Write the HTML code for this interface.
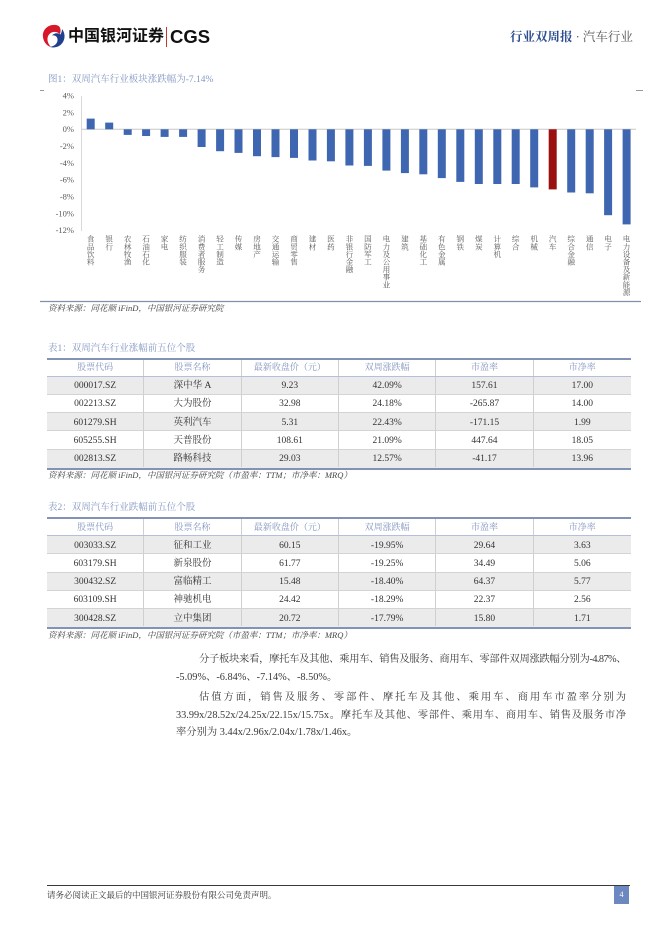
<!DOCTYPE html>
<html><head><meta charset="utf-8">
<style>
*{margin:0;padding:0;box-sizing:border-box}
html,body{width:662px;height:936px;background:#fff;overflow:hidden}
body{position:relative;font-family:"Liberation Serif","Noto Serif CJK SC",serif;color:#333}
.abs{position:absolute;white-space:nowrap}
.cap{font-size:9.5px;color:#8497c2;line-height:12px}
.src{font-size:8.5px;color:#444;font-style:italic;line-height:11px}
.cat{position:absolute;top:235px;width:9px;height:70px;white-space:nowrap;writing-mode:vertical-rl;font-size:7.6px;line-height:9px;color:#595959;font-family:"Liberation Serif","Noto Serif CJK SC",serif}
.tbl{position:absolute;left:47px;width:584px;border-top:2px solid #8393b5;border-bottom:2px solid #8393b5}
.r{display:flex;height:18.25px;border-bottom:1px solid #d4d4d4}
.r:last-child{border-bottom:none}
.r.h{height:17px;border-bottom:1px solid #b4c0da;background:#fff}
.r.g{background:#ebebeb}
.r div{flex:0 0 97.33px;text-align:center;border-right:1px solid #cfcfcf;font-size:9.5px;padding-top:1.5px;line-height:16px;height:17.25px;overflow:hidden;color:#333;white-space:nowrap}
.r div:last-child{border-right:none}
.r.h div{color:#8294bf;font-size:9px;padding-top:0.5px;line-height:15.5px;height:16px}
.p{position:absolute;font-size:10.3px;line-height:14px;color:#3a3a3a;white-space:nowrap}
.j{text-align:justify;text-align-last:justify}
</style></head><body>

<!-- header -->
<svg class="abs" style="left:42px;top:24px" width="24" height="24" viewBox="0 0 24 24">
<path d="M14,1 C6,0 0,6 1,13 C1.5,18 5,22 9,23 C5,19 4,13 8,9.5 C11,7 15,7.5 18,10 C19.5,5 18,1.5 14,1 Z" fill="#d7182a"/>
<path d="M20,5 C24,10 23.5,18 17,22 C13,24 9.5,23.5 8,23 C13,22 16,19 15.5,15 C15,12 12.5,11 10,11.5 C12,9 16,8.5 18.5,10.5 C19.5,8.5 20,7 20,5 Z" fill="#1f3f8f"/>
</svg>
<div class="abs" style="left:68px;top:27px;font-family:'Liberation Sans','Noto Sans CJK SC',sans-serif;font-weight:bold;font-size:16px;line-height:20px;color:#111">中国银河证券</div>
<div class="abs" style="left:166px;top:27px;width:1.2px;height:20px;background:#c0392b"></div>
<div class="abs" style="left:170px;top:26px;font-family:'Liberation Sans',sans-serif;font-weight:bold;font-size:18.5px;line-height:22px;color:#111">CGS</div>
<div class="abs" style="left:510px;top:29px;font-size:12.5px;line-height:16px"><span style="color:#2d4f92;font-weight:bold">行业双周报</span><span style="color:#555"> · 汽车行业</span></div>

<!-- chart -->
<div class="abs cap" style="left:48px;top:74px">图1：双周汽车行业板块涨跌幅为-7.14%</div>
<svg class="abs" style="left:0;top:0" width="662" height="320">
<line x1="40" y1="90.5" x2="44" y2="90.5" stroke="#999" stroke-width="1"/>
<line x1="636" y1="90.5" x2="643" y2="90.5" stroke="#999" stroke-width="1"/>
<line x1="81.5" y1="96" x2="81.5" y2="231" stroke="#d9d9d9" stroke-width="1"/>
<line x1="81.5" y1="129.3" x2="636" y2="129.3" stroke="#c8c8c8" stroke-width="1"/>
<g font-family="Liberation Serif" font-size="8.5" fill="#595959" text-anchor="end">
<text x="74" y="98.5">4%</text>
<text x="74" y="115.3">2%</text>
<text x="74" y="132.2">0%</text>
<text x="74" y="149">-2%</text>
<text x="74" y="165.9">-4%</text>
<text x="74" y="182.7">-6%</text>
<text x="74" y="199.6">-8%</text>
<text x="74" y="216.4">-10%</text>
<text x="74" y="233.2">-12%</text>
</g>
<g fill="#3f66b0">
<rect x="86.7" y="118.6" width="8" height="10.7"/>
<rect x="105.2" y="122.6" width="8" height="6.7"/>
<rect x="123.7" y="129.3" width="8" height="5.6"/>
<rect x="142.1" y="129.3" width="8" height="6.7"/>
<rect x="160.6" y="129.3" width="8" height="7.6"/>
<rect x="179.1" y="129.3" width="8" height="7.6"/>
<rect x="197.6" y="129.3" width="8" height="17.7"/>
<rect x="216.1" y="129.3" width="8" height="21.9"/>
<rect x="234.5" y="129.3" width="8" height="23.6"/>
<rect x="253.0" y="129.3" width="8" height="26.9"/>
<rect x="271.5" y="129.3" width="8" height="27.8"/>
<rect x="290.0" y="129.3" width="8" height="28.6"/>
<rect x="308.5" y="129.3" width="8" height="31.2"/>
<rect x="326.9" y="129.3" width="8" height="32.0"/>
<rect x="345.4" y="129.3" width="8" height="36.2"/>
<rect x="363.9" y="129.3" width="8" height="36.6"/>
<rect x="382.4" y="129.3" width="8" height="41.3"/>
<rect x="400.9" y="129.3" width="8" height="43.8"/>
<rect x="419.3" y="129.3" width="8" height="45.0"/>
<rect x="437.8" y="129.3" width="8" height="48.8"/>
<rect x="456.3" y="129.3" width="8" height="52.6"/>
<rect x="474.8" y="129.3" width="8" height="54.7"/>
<rect x="493.3" y="129.3" width="8" height="54.7"/>
<rect x="511.7" y="129.3" width="8" height="54.7"/>
<rect x="530.2" y="129.3" width="8" height="58.1"/>
<rect x="567.2" y="129.3" width="8" height="63.2"/>
<rect x="585.7" y="129.3" width="8" height="64.0"/>
<rect x="604.1" y="129.3" width="8" height="85.9"/>
<rect x="622.6" y="129.3" width="8" height="95.1"/>
</g>
<rect x="548.7" y="129.3" width="8" height="60.1" fill="#9a0f0f"/>
<line x1="40" y1="301.5" x2="641" y2="301.5" stroke="#8090a8" stroke-width="1.3"/>
</svg>
<div class="cat" style="left:86.2px">食品饮料</div>
<div class="cat" style="left:104.7px">银行</div>
<div class="cat" style="left:123.2px">农林牧渔</div>
<div class="cat" style="left:141.6px">石油石化</div>
<div class="cat" style="left:160.1px">家电</div>
<div class="cat" style="left:178.6px">纺织服装</div>
<div class="cat" style="left:197.1px">消费者服务</div>
<div class="cat" style="left:215.6px">轻工制造</div>
<div class="cat" style="left:234.0px">传媒</div>
<div class="cat" style="left:252.5px">房地产</div>
<div class="cat" style="left:271.0px">交通运输</div>
<div class="cat" style="left:289.5px">商贸零售</div>
<div class="cat" style="left:308.0px">建材</div>
<div class="cat" style="left:326.4px">医药</div>
<div class="cat" style="left:344.9px">非银行金融</div>
<div class="cat" style="left:363.4px">国防军工</div>
<div class="cat" style="left:381.9px">电力及公用事业</div>
<div class="cat" style="left:400.4px">建筑</div>
<div class="cat" style="left:418.8px">基础化工</div>
<div class="cat" style="left:437.3px">有色金属</div>
<div class="cat" style="left:455.8px">钢铁</div>
<div class="cat" style="left:474.3px">煤炭</div>
<div class="cat" style="left:492.8px">计算机</div>
<div class="cat" style="left:511.2px">综合</div>
<div class="cat" style="left:529.7px">机械</div>
<div class="cat" style="left:548.2px">汽车</div>
<div class="cat" style="left:566.7px">综合金融</div>
<div class="cat" style="left:585.2px">通信</div>
<div class="cat" style="left:603.6px">电子</div>
<div class="cat" style="left:622.1px">电力设备及新能源</div>
<div class="abs src" style="left:48px;top:303px">资料来源：同花顺 iFinD，中国银河证券研究院</div>

<!-- table 1 -->
<div class="abs cap" style="left:48px;top:343px">表1：双周汽车行业涨幅前五位个股</div>
<div class="tbl" style="top:357.5px">
<div class="r h"><div>股票代码</div><div>股票名称</div><div>最新收盘价（元）</div><div>双周涨跌幅</div><div>市盈率</div><div>市净率</div></div>
<div class="r g"><div>000017.SZ</div><div>深中华 A</div><div>9.23</div><div>42.09%</div><div>157.61</div><div>17.00</div></div>
<div class="r"><div>002213.SZ</div><div>大为股份</div><div>32.98</div><div>24.18%</div><div>-265.87</div><div>14.00</div></div>
<div class="r g"><div>601279.SH</div><div>英利汽车</div><div>5.31</div><div>22.43%</div><div>-171.15</div><div>1.99</div></div>
<div class="r"><div>605255.SH</div><div>天普股份</div><div>108.61</div><div>21.09%</div><div>447.64</div><div>18.05</div></div>
<div class="r g"><div>002813.SZ</div><div>路畅科技</div><div>29.03</div><div>12.57%</div><div>-41.17</div><div>13.96</div></div>
</div>
<div class="abs src" style="left:48px;top:470px">资料来源：同花顺 iFinD，中国银河证券研究院（市盈率：TTM；市净率：MRQ）</div>

<!-- table 2 -->
<div class="abs cap" style="left:48px;top:502px">表2：双周汽车行业跌幅前五位个股</div>
<div class="tbl" style="top:517px">
<div class="r h"><div>股票代码</div><div>股票名称</div><div>最新收盘价（元）</div><div>双周涨跌幅</div><div>市盈率</div><div>市净率</div></div>
<div class="r g"><div>003033.SZ</div><div>征和工业</div><div>60.15</div><div>-19.95%</div><div>29.64</div><div>3.63</div></div>
<div class="r"><div>603179.SH</div><div>新泉股份</div><div>61.77</div><div>-19.25%</div><div>34.49</div><div>5.06</div></div>
<div class="r g"><div>300432.SZ</div><div>富临精工</div><div>15.48</div><div>-18.40%</div><div>64.37</div><div>5.77</div></div>
<div class="r"><div>603109.SH</div><div>神驰机电</div><div>24.42</div><div>-18.29%</div><div>22.37</div><div>2.56</div></div>
<div class="r g"><div>300428.SZ</div><div>立中集团</div><div>20.72</div><div>-17.79%</div><div>15.80</div><div>1.71</div></div>
</div>
<div class="abs src" style="left:48px;top:630px">资料来源：同花顺 iFinD，中国银河证券研究院（市盈率：TTM；市净率：MRQ）</div>

<!-- paragraphs -->
<div class="p j" style="left:199px;top:653px;width:427px;letter-spacing:-0.6px">分子板块来看，摩托车及其他、乘用车、销售及服务、商用车、零部件双周涨跌幅分别为-4.87%、</div>
<div class="p" style="left:176px;top:670.5px">-5.09%、-6.84%、-7.14%、-8.50%。</div>
<div class="p j" style="left:199px;top:691px;width:427px">估值方面，销售及服务、零部件、摩托车及其他、乘用车、商用车市盈率分别为</div>
<div class="p j" style="left:176px;top:709px;width:450px">33.99x/28.52x/24.25x/22.15x/15.75x。摩托车及其他、零部件、乘用车、商用车、销售及服务市净</div>
<div class="p" style="left:176px;top:725.5px">率分别为 3.44x/2.96x/2.04x/1.78x/1.46x。</div>

<!-- footer -->
<div class="abs" style="left:47px;top:884.5px;width:583px;height:1px;background:#3a3a3a"></div>
<div class="abs" style="left:47px;top:889px;font-size:8.5px;line-height:12px;color:#333">请务必阅读正文最后的中国银河证券股份有限公司免责声明。</div>
<div class="abs" style="left:614px;top:886px;width:15px;height:18px;background:#6d87c0;color:#fff;font-size:8px;line-height:18px;text-align:center">4</div>

</body></html>
